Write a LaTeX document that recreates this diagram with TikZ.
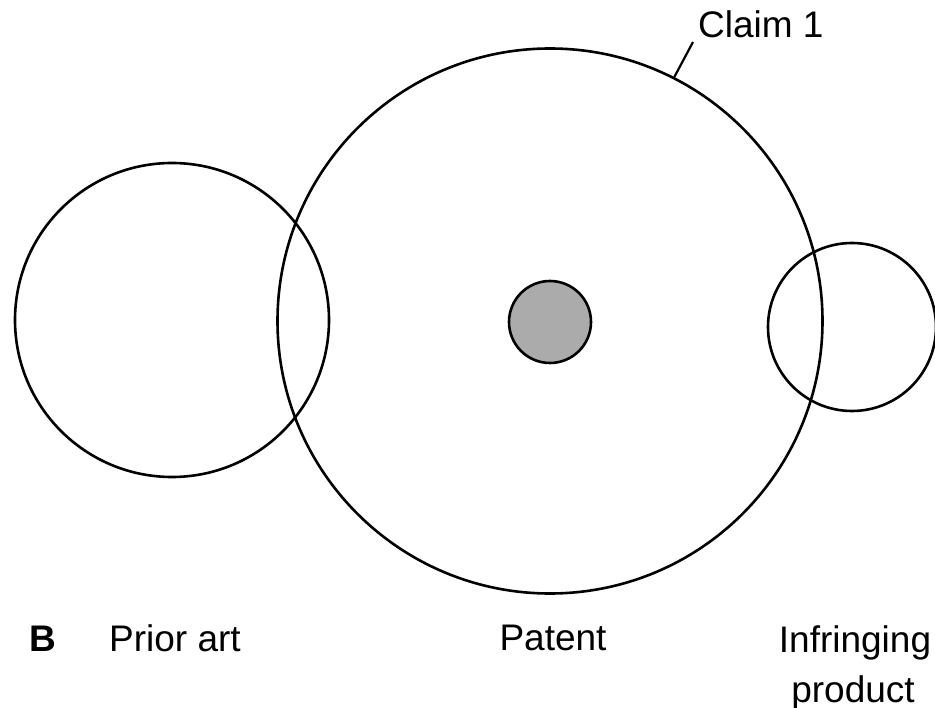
\documentclass[tikz,border=0pt]{standalone}
\usepackage{fontspec}
\setmainfont{Liberation Sans}
\begin{document}
\begin{tikzpicture}[x=1pt,y=-1pt,
  ring/.style={circle,draw=black,line width=2.6pt,inner sep=0pt},
  lbl/.style={inner sep=0pt,font=\fontsize{37}{44}\selectfont}]
\useasboundingbox[fill=white] (0,0) rectangle (935,708);
\node[ring,minimum size=545pt] (claim) at (550,321) {};
\node[ring,minimum size=314pt] (prior) at (172,320) {};
\node[ring,minimum size=168pt] (infr) at (852,327) {};
\node[ring,minimum size=82pt,fill=black!33] (core) at (550,322) {};
\node[lbl,anchor=base west] (claimlbl) at (698,38) {Claim 1};
\coordinate (lead) at (693,42);
\draw[line width=2.2pt] (claim.63.2) -- (lead);
\node[lbl,anchor=base west,font=\fontsize{37}{44}\selectfont\bfseries] (b) at (29,651) {B};
\node[lbl,anchor=base] (priorlbl) at (175,651) {Prior art};
\node[lbl,anchor=base] (patentlbl) at (553,650) {Patent};
\node[lbl,anchor=base] (infrlbl) at (855,652) {Infringing};
\node[lbl,anchor=base] (prodlbl) at (853,702) {product};
\end{tikzpicture}
\end{document}
